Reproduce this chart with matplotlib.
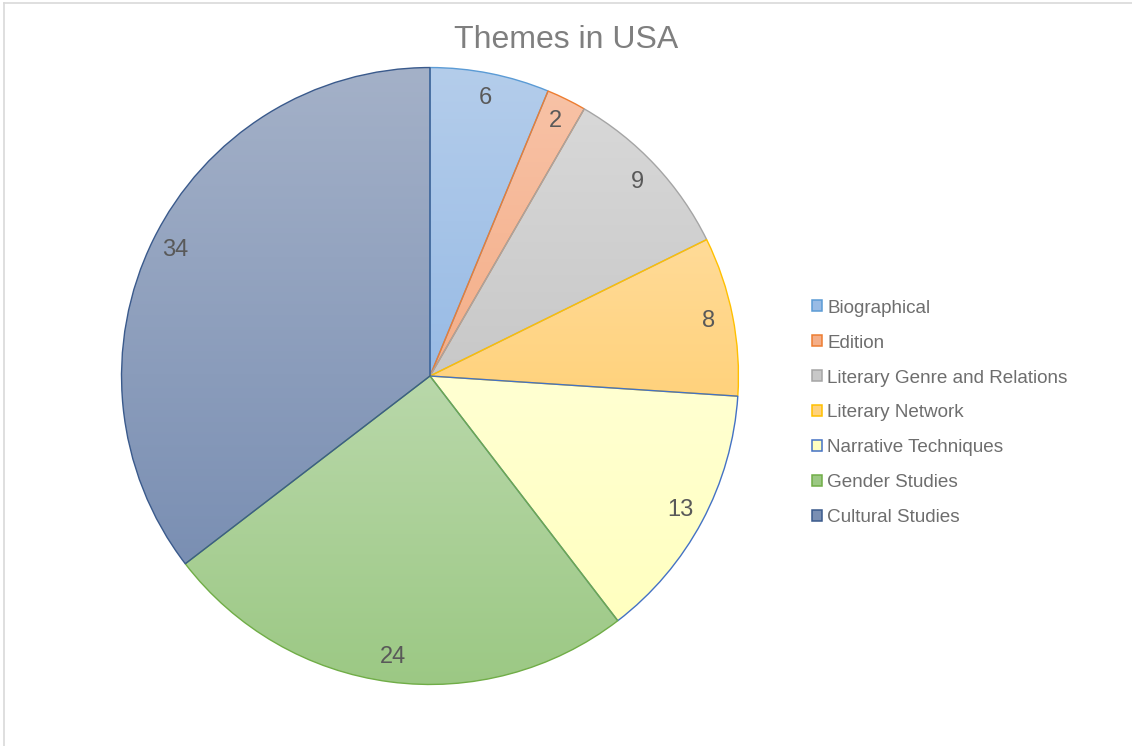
import matplotlib.pyplot as plt
import matplotlib.colors as mcolors
import numpy as np
from matplotlib.lines import Line2D

plt.rcParams['font.family'] = ['Liberation Sans', 'DejaVu Sans']

# data
themes = ['Biographical', 'Edition', 'Literary Genre and Relations', 'Literary Network',
          'Narrative Techniques', 'Gender Studies', 'Cultural Studies']
counts = [6, 2, 9, 8, 13, 24, 34]

# gradient fill (top, bottom) and edge colour per slice
top_colors = ['#B4CDEB', '#F8C2A6', '#D8D8D8', '#FFDB98', '#FFFFD2', '#B9D8AA', '#A4B1C8']
bottom_colors = ['#98BBE5', '#F4AE88', '#C8C8C8', '#FFD27C', '#FFFFC0', '#9BC883', '#7A8FB3']
edge_colors = ['#5B9BD5', '#ED7D31', '#A5A5A5', '#FFC000', '#4472C4', '#70AD47', '#3A5A8C']

W, H = 1132, 746
fig = plt.figure(figsize=(W / 100, H / 100), dpi=100)
cx, cy, r = 430, 376, 310
ax = fig.add_axes([(cx - r) / W, (H - cy - r) / H, 2 * r / W, 2 * r / H])

wedges, texts, autotexts = ax.pie(
    counts, startangle=90, counterclock=False, radius=1,
    colors=top_colors, autopct=lambda p: f'{p * sum(counts) / 100:.0f}',
    pctdistance=0.92, labels=None,
    wedgeprops=dict(linewidth=1.0),
    textprops=dict(fontsize=17, color='#595959'))

# gradient fill clipped to each wedge
for w, c_top, c_bot, ec in zip(wedges, top_colors, bottom_colors, edge_colors):
    w.set_edgecolor(ec)
    w.set_facecolor('none')
    verts = w.get_path().vertices
    x0, x1 = verts[:, 0].min(), verts[:, 0].max()
    y0, y1 = verts[:, 1].min(), verts[:, 1].max()
    t = np.linspace(0, 1, 256)[:, None]
    a = np.array(mcolors.to_rgb(c_top))
    b = np.array(mcolors.to_rgb(c_bot))
    grad = (a[None, None, :] * (1 - t[:, :, None]) + b[None, None, :] * t[:, :, None])
    grad = np.repeat(grad, 2, axis=1)
    im = ax.imshow(grad, extent=[x0, x1, y0, y1], origin='upper', aspect='auto', zorder=0.5)
    im.set_clip_path(w)

for t_ in autotexts:
    t_.set_zorder(5)

ax.set_xlim(-1.005, 1.005)
ax.set_ylim(-1.005, 1.005)
ax.set_aspect('equal')
ax.axis('off')

# title
fig.text(0.5, 1 - 40 / H, 'Themes in USA', ha='center', va='center',
         fontsize=23, color='#7F7F7F')

# legend
handles = [plt.Rectangle((0, 0), 1, 1, facecolor=bc, edgecolor=ec, linewidth=1.1)
           for bc, ec in zip(bottom_colors, edge_colors)]
leg = fig.legend(handles, themes, loc='center left', bbox_to_anchor=(812 / W, 1 - 413 / H),
                 frameon=False, fontsize=13.6, labelcolor='#6E6E6E', borderpad=0,
                 borderaxespad=0, handlelength=0.52, handleheight=0.52,
                 handletextpad=0.3, labelspacing=0.95)

# chart area border
fig.add_artist(Line2D([3.5 / W, 1], [1 - 2.5 / H, 1 - 2.5 / H], color='#D9D9D9', linewidth=1.2))
fig.add_artist(Line2D([3.5 / W, 3.5 / W], [0, 1 - 2.5 / H], color='#D9D9D9', linewidth=1.2))

plt.savefig('out.png', dpi=100)
